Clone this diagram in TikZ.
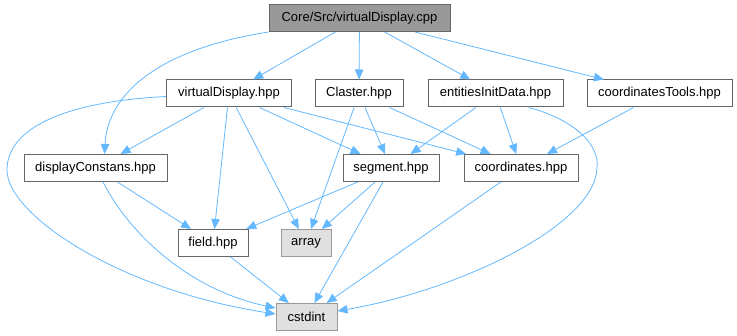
\documentclass[tikz,border=0pt]{standalone}
\usepackage{fontspec}
\setmainfont{Liberation Sans}
\usetikzlibrary{arrows.meta}
\definecolor{edgeblue}{HTML}{63B8FF}
\definecolor{boxline}{HTML}{666666}
\definecolor{sysline}{HTML}{999999}
\definecolor{sysfill}{HTML}{E0E0E0}
\definecolor{mainfill}{HTML}{999999}
\begin{document}
\begin{tikzpicture}[x=1pt,y=-1pt,
	file/.style={draw=boxline,fill=white,line width=1pt,minimum height=27pt,inner sep=0pt,font=\fontsize{13}{15}\selectfont},
	sysfile/.style={file,draw=sysline,fill=sysfill},
	mainfile/.style={file,fill=mainfill},
	dep/.style={draw=edgeblue,line width=0.8pt,-{Triangle[length=10pt,width=8.5pt]}}]
	\useasboundingbox (0,0) rectangle (737,336);
	\node[mainfile, minimum width=181pt] (cpp) at (359.5,18) {Core/Src/virtualDisplay.cpp};
	
	\node[file, minimum width=125pt] (vdh) at (229,93.5) {virtualDisplay.hpp};
	\node[file, minimum width=88pt] (clh) at (359,93.5) {Claster.hpp};
	\node[file, minimum width=135pt] (eid) at (495.5,93.5) {entitiesInitData.hpp};
	\node[file, minimum width=145pt] (cth) at (659.5,93.5) {coordinatesTools.hpp};
	
	\node[file, minimum width=143pt] (dch) at (95.5,168) {displayConstans.hpp};
	\node[file, minimum width=96pt] (sgh) at (391,168) {segment.hpp};
	\node[file, minimum width=114pt] (coh) at (521,168) {coordinates.hpp};
	
	\node[file, minimum width=70pt] (fdh) at (213,243) {field.hpp};
	\node[sysfile, minimum width=50pt] (arr) at (306,243) {array};
	\node[sysfile, minimum width=61pt] (cst) at (306.5,317) {cstdint};
	
	% includes of the .cpp
	\draw[dep] (cpp) -- (vdh);
	\draw[dep] (cpp) -- (clh);
	\draw[dep] (cpp) -- (eid);
	\draw[dep] (cpp) -- (cth);
	\draw[dep] (cpp.south west) .. controls (165,48) and (108,90) .. ([xshift=9pt]dch.north);
	
	% virtualDisplay.hpp
	\draw[dep] (vdh) -- (dch);
	\draw[dep] (vdh) -- (fdh);
	\draw[dep] (vdh) -- (arr);
	\draw[dep] (vdh) -- (sgh);
	\draw[dep] (vdh) -- (coh);
	\draw[dep] ([yshift=-3pt]vdh.west) .. controls (60,102) and (7,130) .. (7,170)
		.. controls (7,215) and (120,290) .. ([yshift=3pt]cst.west);
	
	% Claster.hpp
	\draw[dep] (clh) -- (arr);
	\draw[dep] (clh) -- (sgh);
	\draw[dep] (clh) -- (coh);
	
	% entitiesInitData.hpp
	\draw[dep] (eid) -- (sgh);
	\draw[dep] (eid) -- (coh);
	\draw[dep] ([xshift=33.5pt]eid.south) .. controls (575,120) and (600,145) .. (597,168)
		.. controls (595,225) and (460,290) .. ([yshift=6pt]cst.east);
	
	\draw[dep] (cth) -- (coh);
	
	\draw[dep] (dch) -- (fdh);
	\draw[dep] ([xshift=7.5pt]dch.south) .. controls (130,235) and (190,290) .. ([yshift=9pt]cst.west);
	
	\draw[dep] (sgh) -- (fdh);
	\draw[dep] (sgh) -- (arr);
	\draw[dep] (sgh) -- (cst);
	\draw[dep] (coh) -- (cst);
	\draw[dep] (fdh) -- (cst);
\end{tikzpicture}
\end{document}
